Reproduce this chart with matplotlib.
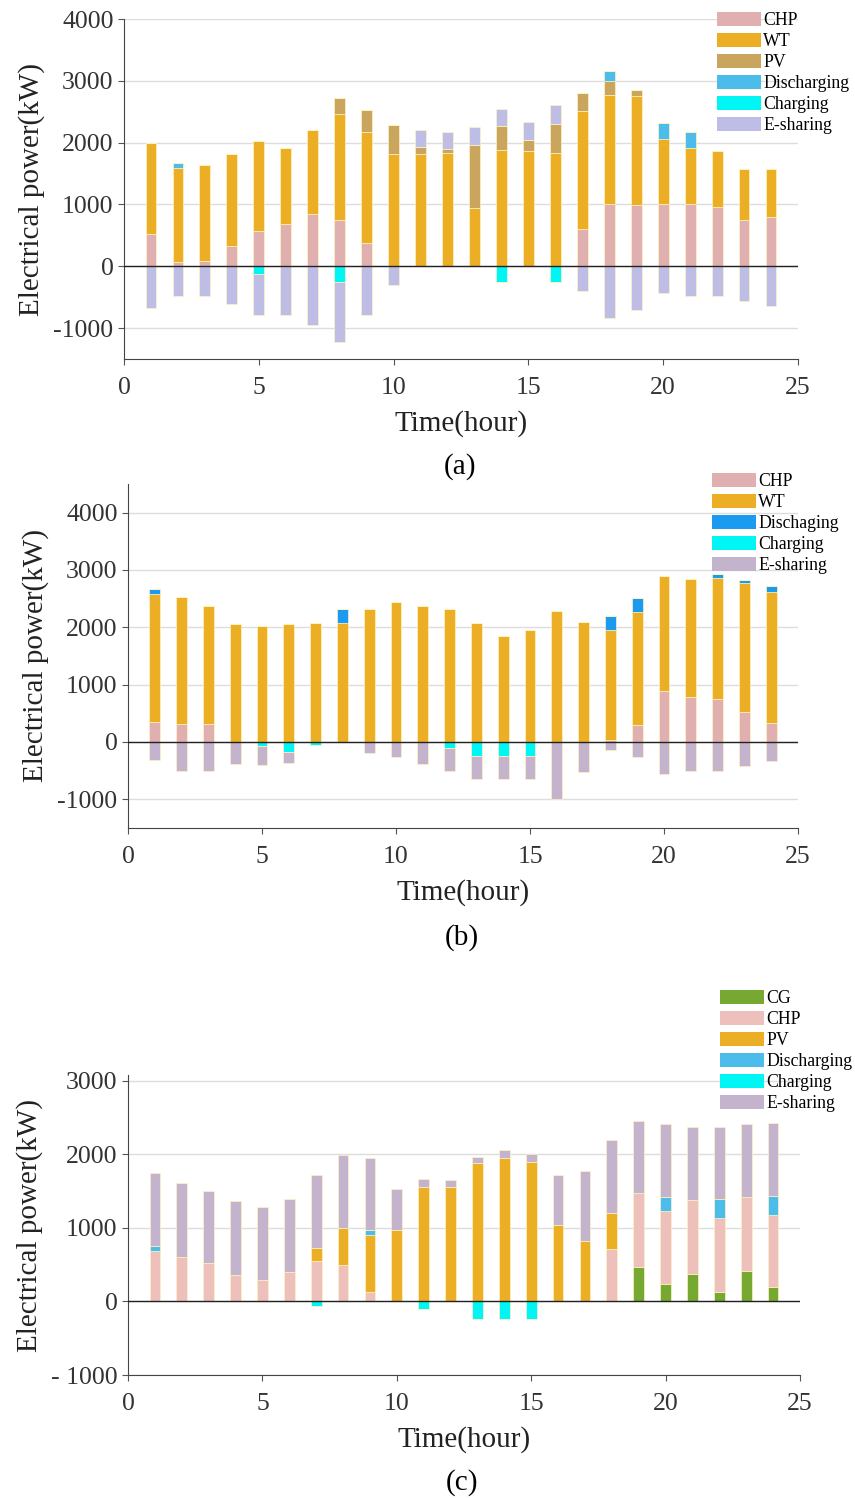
import numpy as np
import matplotlib
matplotlib.use("Agg")
import matplotlib.pyplot as plt
from matplotlib.patches import Patch

plt.rcParams['font.family'] = ['Liberation Serif', 'DejaVu Serif']

hours = np.arange(1, 25)

# ---- panel (a) ----
a_chp = [520, 70, 80, 322, 568, 681, 842, 745, 375, 0, 0, 0, 0, 0, 0, 0, 606, 1003, 987, 1003, 1003, 954, 751, 794]
a_wt = [1475, 1522, 1555, 1501, 1453, 1239, 1362, 1721, 1791, 1812, 1823, 1839, 944, 1882, 1871, 1839, 1903, 1764, 1769, 1061, 906, 912, 825, 782]
a_pv = [0, 0, 0, 0, 0, 0, 0, 252, 354, 478, 107, 59, 1024, 381, 172, 467, 295, 230, 91, 0, 0, 0, 0, 0]
a_dis = [0, 86, 0, 0, 0, 0, 0, 0, 0, 0, 0, 0, 0, 0, 0, 0, 0, 161, 0, 258, 257, 0, 0, 0]
a_chg = [0, 0, 0, 0, -123, 0, 0, -252, 0, 0, 0, 0, 0, -247, 0, -247, 0, 0, 0, 0, 0, 0, 0, 0]
a_esh = [-670, -483, -483, -611, -660, -794, -954, -981, -794, -300, 274, 279, 284, 284, 289, 300, -402, -842, -713, -429, -483, -483, -558, -643]

# ---- panel (b) ----
b_chp = [354, 307, 307, 0, 0, 0, 0, 0, 0, 0, 0, 0, 0, 0, 0, 0, 0, 30, 290, 887, 788, 742, 522, 336]
b_wt = [2226, 2226, 2070, 2052, 2023, 2052, 2070, 2075, 2319, 2435, 2377, 2319, 2070, 1855, 1948, 2278, 2087, 1918, 1971, 2000, 2053, 2116, 2255, 2284]
b_dis = [81, 0, 0, 0, 0, 0, 0, 244, 0, 0, 0, 0, 0, 0, 0, 0, 0, 249, 243, 0, 0, 75, 40, 93]
b_chg = [0, 0, 0, 0, -75, -174, -45, 0, 0, 0, 0, -104, -243, -243, -243, 0, 0, 0, 0, 0, 0, 0, 0, 0]
b_esh = [-313, -504, -504, -377, -319, -185, -15, 0, -186, -255, -377, -395, -395, -395, -395, -991, -528, -139, -267, -557, -504, -504, -423, -330]

# ---- panel (c) ----
c_cg = [0] * 18 + [475, 235, 380, 131, 416, 194]
c_chp = [683, 610, 520, 366, 294, 402, 547, 502, 131, 0, 0, 0, 0, 0, 0, 0, 0, 710, 1003, 999, 999, 1004, 999, 986]
c_pv = [0, 0, 0, 0, 0, 0, 176, 497, 769, 972, 1560, 1560, 1881, 1958, 1903, 1035, 827, 493, 0, 0, 0, 0, 0, 0]
c_dis = [72, 0, 0, 0, 0, 0, 0, 0, 72, 0, 0, 0, 0, 0, 0, 0, 0, 0, 0, 181, 0, 257, 0, 253]
c_chg = [0, 0, 0, 0, 0, 0, -63, 0, 0, 0, -104, 0, -235, -235, -235, 0, 0, 0, 0, 0, 0, 0, 0, 0]
c_esh = [995, 995, 985, 995, 994, 995, 995, 999, 986, 556, 108, 90, 90, 108, 104, 683, 950, 999, 977, 995, 994, 981, 995, 999]

W, H = 855, 1501
fig = plt.figure(figsize=(W / 100, H / 100), dpi=100)


def axes_px(left, right, top, bottom):
    return fig.add_axes([left / W, 1 - bottom / H, (right - left) / W, (bottom - top) / H])


def stacked(ax, series, colors):
    # positive parts stack up from 0, negative parts stack down
    pos = np.zeros(24)
    neg = np.zeros(24)
    for s, c in zip(series, colors):
        s = np.asarray(s, dtype=float)
        p = np.where(s > 0, s, 0)
        n = np.where(s < 0, s, 0)
        ax.bar(hours, p, 0.4, bottom=pos, color=c, edgecolor='#fff3c0', linewidth=0.5, zorder=3)
        ax.bar(hours, n, 0.4, bottom=neg, color=c, edgecolor='#fff3c0', linewidth=0.5, zorder=3)
        pos += p
        neg += n


def style(ax, ylim, yticks, ylabels):
    ax.set_xlim(0, 25)
    ax.set_ylim(*ylim)
    ax.set_xticks([0, 5, 10, 15, 20, 25])
    ax.set_yticks(yticks)
    ax.set_yticklabels(ylabels)
    ax.tick_params(labelsize=18.5, length=4, color='#555555', labelcolor='#333333')
    ax.tick_params(axis='x', pad=9)
    ax.spines['top'].set_visible(False)
    ax.spines['right'].set_visible(False)
    for sp in ('left', 'bottom'):
        ax.spines[sp].set_color('#444444')
    ax.grid(axis='y', color='#dddddd', linewidth=1, zorder=0)
    ax.axhline(0, color='#222222', linewidth=1, zorder=4)
    ax.set_xlabel('Time(hour)', fontsize=21, labelpad=8, color='#222222')
    ax.set_ylabel('Electrical power(kW)', fontsize=21, labelpad=6, color='#222222')


def legend(labels, colors, x, y):
    handles = [Patch(facecolor=c, edgecolor='none') for c in colors]
    fig.legend(handles, labels, loc='upper left', bbox_to_anchor=(x / W, 1 - y / H),
               frameon=False, fontsize=12.8, handlelength=2.45, handleheight=0.8,
               handletextpad=0.15, labelspacing=0.23, borderpad=0, borderaxespad=0)


# (a)
ax_a = axes_px(124, 798, 19, 359)
cols_a = ['#e0b0b0', '#ebae25', '#c9a55e', '#4cbcea', '#00f5f5', '#bdbde6']
stacked(ax_a, [a_chp, a_wt, a_pv, a_dis, a_chg, a_esh], cols_a)
style(ax_a, (-1500, 4000), [-1000, 0, 1000, 2000, 3000, 4000],
      ['-1000', '0', '1000', '2000', '3000', '4000'])
legend(['CHP', 'WT', 'PV', 'Discharging', 'Charging', 'E-sharing'], cols_a, 717, 12)
fig.text(460 / W, 1 - 467 / H, '(a)', ha='center', va='center', fontsize=21)

# (b)
ax_b = axes_px(128, 798, 484, 828)
cols_b = ['#e0b0b0', '#ebae25', '#1a9bf0', '#00f5f5', '#c3b3cc']
stacked(ax_b, [b_chp, b_wt, b_dis, b_chg, b_esh], cols_b)
style(ax_b, (-1500, 4500), [-1000, 0, 1000, 2000, 3000, 4000],
      ['-1000', '0', '1000', '2000', '3000', '4000'])
legend(['CHP', 'WT', 'Dischaging', 'Charging', 'E-sharing'], cols_b, 712, 473)
fig.text(462 / W, 1 - 938 / H, '(b)', ha='center', va='center', fontsize=21)

# (c)
ax_c = axes_px(128, 800, 1075, 1375)
cols_c = ['#76a832', '#edc0bc', '#ebae25', '#4cbcea', '#00f5f5', '#c3b3cc']
stacked(ax_c, [c_cg, c_chp, c_pv, c_dis, c_chg, c_esh], cols_c)
style(ax_c, (-1000, 3080), [-1000, 0, 1000, 2000, 3000],
      ['- 1000', '0', '1000', '2000', '3000'])
legend(['CG', 'CHP', 'PV', 'Discharging', 'Charging', 'E-sharing'], cols_c, 720, 990)
fig.text(462 / W, 1 - 1483 / H, '(c)', ha='center', va='center', fontsize=21)

fig.savefig('out.png', dpi=100)
